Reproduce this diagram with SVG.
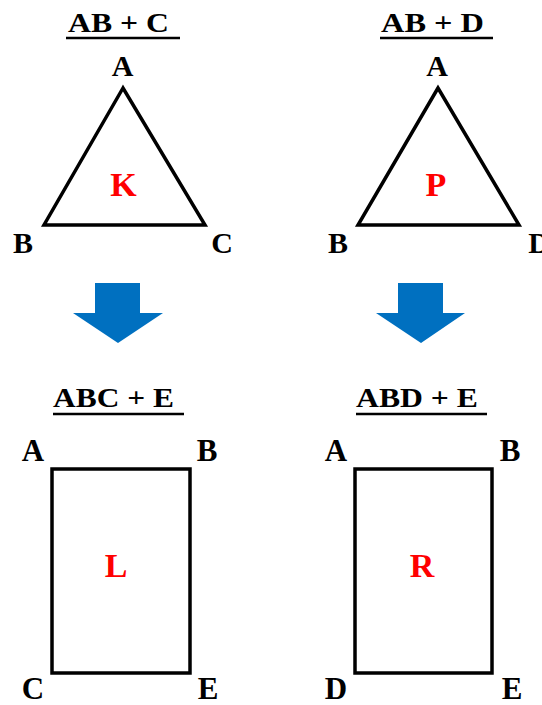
<svg xmlns="http://www.w3.org/2000/svg" width="542" height="705" viewBox="0 0 542 705">
<style>
.t{font-family:'Liberation Serif','Times New Roman','DejaVu Serif Condensed',serif;font-weight:bold;fill:#000}
.title{font-size:27px}
.v{font-size:30px;text-anchor:middle}
.vb{font-size:31px;text-anchor:middle}
.in{font-family:'Liberation Serif','Times New Roman','DejaVu Serif Condensed',serif;font-weight:bold;font-size:34px;fill:#ff0000;text-anchor:middle}
.shape{fill:none;stroke:#000;stroke-width:3.5;stroke-linejoin:miter}
.ul{stroke:#000;stroke-width:2.5}
.arrow{fill:#0070C0}
</style>
<rect width="542" height="705" fill="#fff"/>
<g id="tri-left">
<text class="t title" x="68" y="32" textLength="101" lengthAdjust="spacingAndGlyphs">AB + C</text>
<line class="ul" x1="66" y1="38" x2="180" y2="38"/>
<polygon class="shape" points="123,88 44,225 205,225"/>
<text class="t v" x="122.5" y="76">A</text>
<text class="t v" x="23" y="253">B</text>
<text class="t v" x="222" y="253">C</text>
<text class="in" x="123.5" y="196">K</text>
</g>
<g id="tri-right">
<text class="t title" x="381" y="32" textLength="103" lengthAdjust="spacingAndGlyphs">AB + D</text>
<line class="ul" x1="380" y1="38" x2="493" y2="38"/>
<polygon class="shape" points="438,88 358,225 519,225"/>
<text class="t v" x="437" y="76">A</text>
<text class="t v" x="338" y="253">B</text>
<text class="t v" x="539" y="253">D</text>
<text class="in" x="436" y="196">P</text>
</g>
<g id="rect-left">
<text class="t title" x="53" y="407" textLength="121" lengthAdjust="spacingAndGlyphs">ABC + E</text>
<line class="ul" x1="53" y1="414" x2="184" y2="414"/>
<rect class="shape" x="52" y="469" width="138" height="204"/>
<text class="t vb" x="33" y="461">A</text>
<text class="t vb" x="207" y="461">B</text>
<text class="t vb" x="33" y="699">C</text>
<text class="t vb" x="208" y="699">E</text>
<text class="in" x="116" y="577">L</text>
</g>
<g id="rect-right">
<text class="t title" x="356" y="407" textLength="122" lengthAdjust="spacingAndGlyphs">ABD + E</text>
<line class="ul" x1="356" y1="414" x2="487" y2="414"/>
<rect class="shape" x="355" y="469" width="137" height="204"/>
<text class="t vb" x="336" y="461">A</text>
<text class="t vb" x="510" y="461">B</text>
<text class="t vb" x="336" y="699">D</text>
<text class="t vb" x="512" y="699">E</text>
<text class="in" x="422" y="577">R</text>
</g>
<g id="connectors">
<polygon class="arrow" points="95,283 140,283 140,313 163,313 118,343 73,313 95,313"/>
<polygon class="arrow" points="398,283 443,283 443,313 465,313 421,343 376,313 398,313"/>
</g>
</svg>
